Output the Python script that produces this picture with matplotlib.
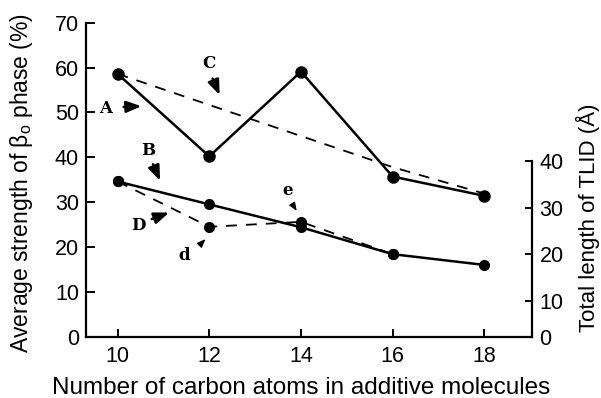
import numpy as np
import matplotlib
matplotlib.use("Agg")
import matplotlib.pyplot as plt

plt.rcParams['font.family'] = ['Liberation Sans', 'DejaVu Sans']
plt.rcParams['mathtext.fontset'] = 'custom'
plt.rcParams['mathtext.rm'] = 'Liberation Sans'

# carbon number of the additive
carbons = [10, 12, 14, 16, 18]

# curve A (solid, upper) and curve B (solid, lower)
curve_a = [58.6, 40.2, 59.1, 35.7, 31.4]
curve_b = [34.6, 29.5, 24.4, 18.4, 16.0]

# curve C (dashed, upper)
carbons_c = [10, 16, 18]
curve_c = [58.6, 37.8, 31.9]

# curve D (dashed, lower), with points d and e
carbons_d = [10, 12, 14, 16]
curve_d = [34.6, 24.5, 25.6, 18.4]

left_ticks = [0, 10, 20, 30, 40, 50, 60, 70]
right_ticks = [10, 20, 30, 40]
right_zero = 2.3   # the right axis "0" sits on the x axis in the original

# label text, label position, arrow start, arrow end, big arrow?
labels = [
    ("A", (9.74, 50.9), (10.07, 51.2), (10.58, 51.4), True),
    ("C", (11.99, 60.9), (12.05, 58.1), (12.25, 53.3), True),
    ("B", (10.67, 41.6), (10.75, 39.0), (10.95, 34.2), True),
    ("D", (10.45, 24.7), (10.69, 26.0), (11.18, 27.9), True),
    ("d", (11.45, 18.1), (11.74, 19.9), (11.96, 22.2), False),
    ("e", (13.70, 32.5), (13.78, 30.1), (13.94, 27.5), False),
]

fig = plt.figure(figsize=(6.01, 3.98), dpi=100)
ax = fig.add_axes([0.143, 0.154, 0.743, 0.789])

ax.plot(carbons, curve_a, color='black', lw=1.8, marker='o', ms=8)
ax.plot(carbons, curve_b, color='black', lw=1.8, marker='o', ms=7)
ax.plot(carbons_c, curve_c, color='black', lw=1.3, dashes=(6, 5))
ax.plot(carbons_d, curve_d, color='black', lw=1.3, dashes=(6, 5), marker='o', ms=7)

for txt, pos, start, end, big in labels:
    ax.text(pos[0], pos[1], txt, family='DejaVu Serif', weight='bold',
            fontsize=12, ha='center', va='center')
    if big:
        ax.annotate('', xy=end, xytext=start,
                    arrowprops=dict(arrowstyle='-|>,head_length=0.9,head_width=0.35',
                                    color='black', lw=1.8))
    else:
        ax.annotate('', xy=end, xytext=start,
                    arrowprops=dict(arrowstyle='-|>,head_length=0.5,head_width=0.2',
                                    color='black', lw=0.9))

ax.set_xlim(9.31, 19.05)
ax.set_ylim(0, 70)
ax.set_xticks(carbons)
ax.set_yticks(left_ticks)
ax.spines['top'].set_visible(False)
ax.spines['right'].set_visible(False)
for s in ['left', 'bottom']:
    ax.spines[s].set_linewidth(1.6)
ax.tick_params(axis='y', direction='in', length=6.5, width=1.4, labelsize=15.5, pad=5)
ax.tick_params(axis='x', direction='in', length=6, width=1.4, labelsize=15.5, pad=7)
ax.set_xlabel('Number of carbon atoms in additive molecules', fontsize=17.5)
ax.xaxis.set_label_coords(0.482, -0.128)
ax.set_ylabel(r'Average strength of $\mathregular{\beta_o}$ phase (%)', fontsize=16.5)
ax.yaxis.set_label_coords(-0.114, 0.49)

ax2 = ax.twinx()
ax2.set_ylim(right_zero, 69.7)
ax2.set_yticks([right_zero] + right_ticks, ['0'] + [str(t) for t in right_ticks])
for s in ['top', 'left', 'bottom']:
    ax2.spines[s].set_visible(False)
ax2.spines['right'].set_bounds(right_zero, 40)
ax2.spines['right'].set_linewidth(1.6)
ax2.tick_params(axis='y', direction='in', length=5, width=1.4, labelsize=15.5, pad=5)
ax2.set_ylabel('Total length of TLID (Å)', fontsize=16)
ax2.yaxis.set_label_coords(1.098, 0.38)

fig.savefig('out.png', dpi=100)
